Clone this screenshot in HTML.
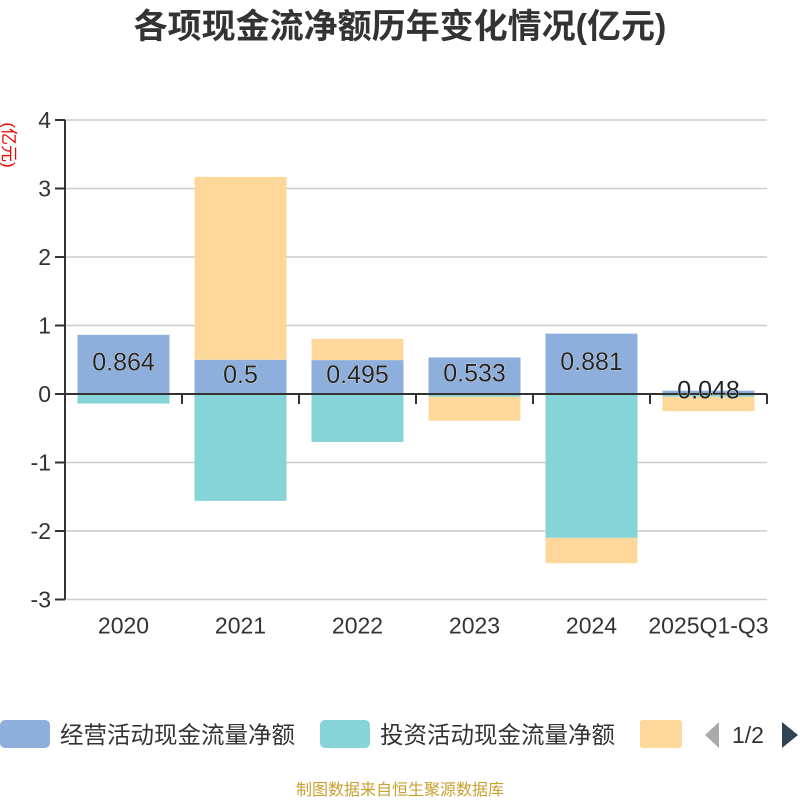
<!DOCTYPE html>
<html><head><meta charset="utf-8"><style>
body{margin:0;background:#fff;width:800px;height:800px;overflow:hidden;font-family:"Liberation Sans","Noto Sans CJK SC",sans-serif}
</style></head><body>
<svg id="c" width="800" height="800" xmlns="http://www.w3.org/2000/svg">
<text x="400" y="38" text-anchor="middle" font-size="34" font-weight="bold" fill="#333" font-family="Liberation Sans,Noto Sans CJK SC,sans-serif">各项现金流净额历年变化情况(亿元)</text>
<text transform="translate(3,145) rotate(90)" text-anchor="middle" font-size="17" fill="#e00" font-family="Liberation Sans,Noto Sans CJK SC,sans-serif">(亿元)</text>
<g id="grid"></g><g id="bars"></g><g id="axes"></g><g id="labels"></g>
<g font-family="Liberation Sans,Noto Sans CJK SC,sans-serif">
<rect x="0" y="720" width="50" height="28" rx="5" fill="#8eaedb"/>
<text x="60" y="743" font-size="23.5" fill="#333">经营活动现金流量净额</text>
<rect x="320" y="720" width="50" height="28" rx="5" fill="#86d4d7"/>
<text x="380" y="743" font-size="23.5" fill="#333">投资活动现金流量净额</text>
<rect x="640" y="720" width="42" height="28" rx="3" fill="#fed89a"/>
<path d="M719 722 L705 735 L719 748 Z" fill="#aaa"/>
<text x="732" y="743" font-size="23" fill="#333">1/2</text>
<path d="M782 722 L798 735 L782 748 Z" fill="#2f4554"/>
</g>
<text x="400" y="795" text-anchor="middle" font-size="16" fill="#c8a032" font-family="Liberation Sans,Noto Sans CJK SC,sans-serif">制图数据来自恒生聚源数据库</text>
</svg>
<script>
const categories=["2020","2021","2022","2023","2024","2025Q1-Q3"];
const operating=[0.864,0.5,0.495,0.533,0.881,0.048];
const investing=[-0.14,-1.56,-0.70,-0.04,-2.10,-0.04];
const financing=[0,2.67,0.31,-0.35,-0.37,-0.21];
const yTicks=[4,3,2,1,0,-1,-2,-3];
const NS="http://www.w3.org/2000/svg";
const x0=65,x1=767,bw=92;
const y=v=>394-v*68.5;
const step=(x1-x0)/categories.length;
const cx=i=>x0+step*(i+0.5);
function mk(t,a,p){const e=document.createElementNS(NS,t);for(const k in a)e.setAttribute(k,a[k]);p.appendChild(e);return e;}
const grid=document.getElementById('grid'),bars=document.getElementById('bars'),axes=document.getElementById('axes'),labels=document.getElementById('labels');
yTicks.forEach(v=>{
 const l=mk('line',{x1:x0,x2:x1,y1:y(v),y2:y(v),stroke:'#ccc','stroke-width':1.5},grid);
 
 
 const tk=mk('line',{x1:x0-10,x2:x0,y1:y(v),y2:y(v),stroke:'#333','stroke-width':2},axes);
 
 
 const t=mk('text',{x:x0-14,y:y(v)+8,'text-anchor':'end','font-size':23,fill:'#333'},axes);
 t.textContent=v;
 
 
});
const ya=mk('line',{x1:x0,x2:x0,y1:y(4),y2:y(-3),stroke:'#333','stroke-width':2},axes);


const xa=mk('line',{x1:x0,x2:x1,y1:y(0),y2:y(0),stroke:'#333','stroke-width':2},axes);


for(let i=0;i<=categories.length;i++){
 const tk=mk('line',{x1:x0+step*i,x2:x0+step*i,y1:y(0),y2:y(0)+10,stroke:'#333','stroke-width':2},axes);
 
 
}
function bar(a,b,i,col,name){
 const top=Math.min(y(a),y(b)),h=Math.abs(y(a)-y(b));
 const r=mk('rect',{x:cx(i)-bw/2,y:top,width:bw,height:h,fill:col},bars);
 
 
}
categories.forEach((c,i)=>{
 let pos=0,neg=0;
 const seq=[[operating[i],'#8eaedb','bar-operating'],[investing[i],'#86d4d7','bar-investing'],[financing[i],'#fed89a','bar-financing']];
 seq.forEach(([v,col,n])=>{
  if(v>=0){bar(pos,pos+v,i,col,n);pos+=v;}else{bar(neg,neg+v,i,col,n);neg+=v;}
 });
 const t=mk('text',{x:cx(i),y:y(operating[i]/2)+6,'text-anchor':'middle','font-size':25,fill:'#222',stroke:'#fff','stroke-width':0.6,'paint-order':'stroke'},labels);
 t.textContent=operating[i];
 
 
 const xl=mk('text',{x:cx(i),y:y(-3)+34,'text-anchor':'middle','font-size':23,fill:'#333'},axes);
 xl.textContent=c;
 
 
});
</script>
</body></html>
